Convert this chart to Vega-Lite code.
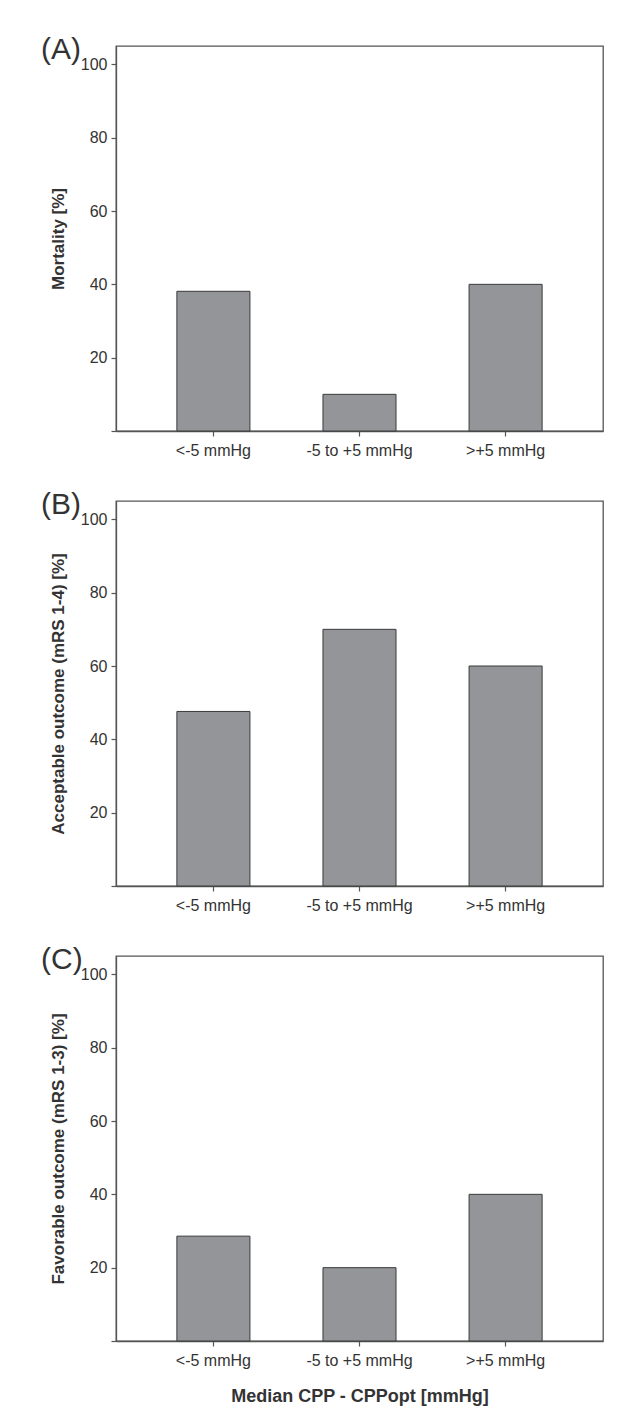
{
  "$schema": "https://vega.github.io/schema/vega-lite/v6.json",
  "background": "white",
  "padding": {"left": 40, "top": 34, "right": 10, "bottom": 0},
  "spacing": 30,
  "config": {
    "font": "Liberation Sans",
    "view": {"stroke": "#555", "strokeWidth": 1.3},
    "axis": {
      "domainColor": "#555",
      "domainWidth": 1.3,
      "tickColor": "#555",
      "tickWidth": 1.2,
      "tickSize": 5,
      "labelFont": "Liberation Sans",
      "labelFontSize": 16,
      "labelColor": "#333",
      "titleFont": "Liberation Sans",
      "titleColor": "#333",
      "titleFontWeight": "bold",
      "grid": false
    },
    "title": {"font": "Liberation Sans", "fontSize": 30, "fontWeight": "normal", "color": "#333", "anchor": "start", "frame": "group", "baseline": "alphabetic", "dx": -75, "dy": 11, "offset": -8}
  },
  "datasets": {
    "outcomes": [
      {"panel": "A", "group": "<-5 mmHg", "value": 38.1},
      {"panel": "A", "group": "-5 to +5 mmHg", "value": 10},
      {"panel": "A", "group": ">+5 mmHg", "value": 40},
      {"panel": "B", "group": "<-5 mmHg", "value": 47.6},
      {"panel": "B", "group": "-5 to +5 mmHg", "value": 70},
      {"panel": "B", "group": ">+5 mmHg", "value": 60},
      {"panel": "C", "group": "<-5 mmHg", "value": 28.6},
      {"panel": "C", "group": "-5 to +5 mmHg", "value": 20},
      {"panel": "C", "group": ">+5 mmHg", "value": 40}
    ]
  },
  "vconcat": [
    {
      "title": {"text": "(A)"},
      "width": 487, "height": 385,
      "data": {"name": "outcomes"},
      "transform": [{"filter": "datum.panel == 'A'"}],
      "mark": {"type": "bar", "color": "#939598", "stroke": "#3a3a3a", "strokeWidth": 1},
      "encoding": {
        "x": {"field": "group", "type": "nominal", "sort": ["<-5 mmHg", "-5 to +5 mmHg", ">+5 mmHg"],
              "scale": {"paddingInner": 0.5, "paddingOuter": 0.4167},
              "axis": {"title": null, "labelAngle": 0, "labelPadding": 6}},
        "y": {"field": "value", "type": "quantitative", "scale": {"domain": [0, 105], "nice": false},
              "axis": {"title": "Mortality [%]", "titleFontSize": 17, "values": [0, 20, 40, 60, 80, 100], "labelExpr": "datum.value == 0 ? '' : datum.label", "labelPadding": 4, "titlePadding": 13}}
      }
    },
    {
      "title": {"text": "(B)"},
      "width": 487, "height": 385,
      "data": {"name": "outcomes"},
      "transform": [{"filter": "datum.panel == 'B'"}],
      "mark": {"type": "bar", "color": "#939598", "stroke": "#3a3a3a", "strokeWidth": 1},
      "encoding": {
        "x": {"field": "group", "type": "nominal", "sort": ["<-5 mmHg", "-5 to +5 mmHg", ">+5 mmHg"],
              "scale": {"paddingInner": 0.5, "paddingOuter": 0.4167},
              "axis": {"title": null, "labelAngle": 0, "labelPadding": 6}},
        "y": {"field": "value", "type": "quantitative", "scale": {"domain": [0, 105], "nice": false},
              "axis": {"title": "Acceptable outcome (mRS 1-4) [%]", "titleFontSize": 17, "values": [0, 20, 40, 60, 80, 100], "labelExpr": "datum.value == 0 ? '' : datum.label", "labelPadding": 4, "titlePadding": 13}}
      }
    },
    {
      "title": {"text": "(C)"},
      "width": 487, "height": 385,
      "data": {"name": "outcomes"},
      "transform": [{"filter": "datum.panel == 'C'"}],
      "mark": {"type": "bar", "color": "#939598", "stroke": "#3a3a3a", "strokeWidth": 1},
      "encoding": {
        "x": {"field": "group", "type": "nominal", "sort": ["<-5 mmHg", "-5 to +5 mmHg", ">+5 mmHg"],
              "scale": {"paddingInner": 0.5, "paddingOuter": 0.4167},
              "axis": {"title": "Median CPP - CPPopt [mmHg]", "titleFontSize": 18, "titlePadding": 19, "labelAngle": 0, "labelPadding": 6}},
        "y": {"field": "value", "type": "quantitative", "scale": {"domain": [0, 105], "nice": false},
              "axis": {"title": "Favorable outcome (mRS 1-3) [%]", "titleFontSize": 17, "values": [0, 20, 40, 60, 80, 100], "labelExpr": "datum.value == 0 ? '' : datum.label", "labelPadding": 4, "titlePadding": 13}}
      }
    }
  ]
}
